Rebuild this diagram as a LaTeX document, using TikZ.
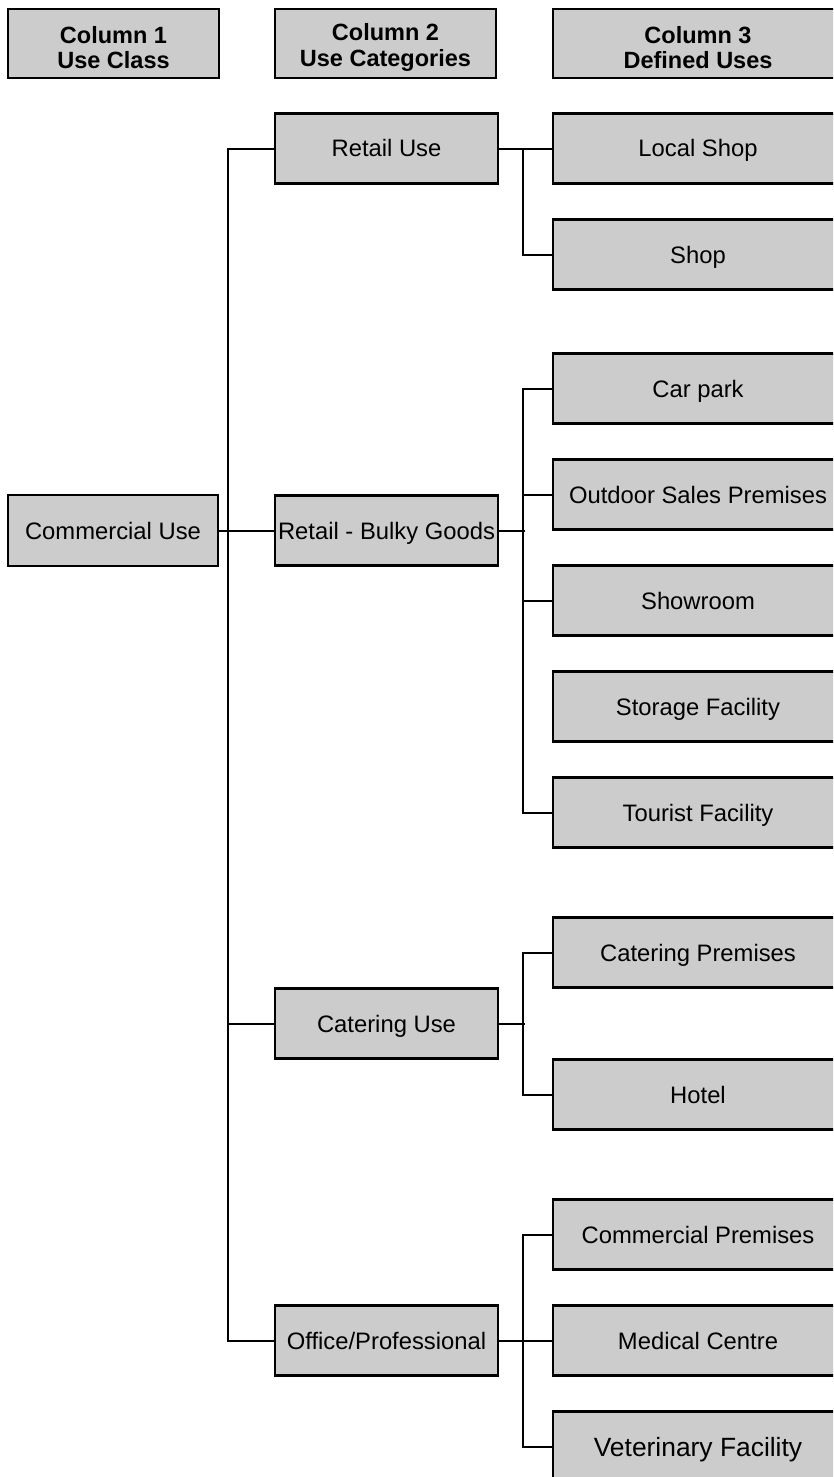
\documentclass[tikz,border=0pt]{standalone}
\usepackage{fontspec}
\setmainfont{Liberation Sans}
\definecolor{boxgray}{HTML}{CCCCCC}
\tikzset{
  box/.style={draw=black, line width=2.3pt, fill=boxgray, inner sep=0pt, anchor=center,
    text height=17pt, text depth=0pt, font=\fontsize{23.8}{27}\selectfont},
  hdr/.style={box, minimum height=69pt},
  hdrtext/.style={align=center, inner sep=0pt, font=\fontsize{23.5}{25.5}\selectfont\bfseries, yshift=-4pt},
  cA/.style={minimum width=210pt, minimum height=71pt},
  cB/.style={minimum width=223pt, minimum height=70pt},
  cC/.style={minimum width=290pt, minimum height=70pt},
  link/.style={draw=black, line width=2pt}
}
\begin{document}
\begin{tikzpicture}[x=1pt,y=-1pt]
\useasboundingbox (0,0) rectangle (833,1477);
\clip (0,0) rectangle (833,1477);
\fill[white] (0,0) rectangle (833,1477);
% headers
\node[hdr, minimum width=211pt, label={[hdrtext]center:Column 1\\Use Class}] (h1) at (113.5,43.5) {};
\node[hdr, minimum width=221pt, label={[hdrtext]center:Column 2\\Use Categories}] (h2) at (385.5,43.5) {};
\node[hdr, minimum width=290pt, label={[hdrtext]center:Column 3\\Defined Uses}] (h3) at (698,43.5) {};
% column 1
\node[box, cA] (cu) at (113,530.5) {Commercial Use};
% column 2
\node[box, cB] (ru) at (386.5,148.5) {Retail Use};
\node[box, cB] (rb) at (386.5,530.5) {Retail - Bulky Goods};
\node[box, cB] (cat) at (386.5,1023.5) {Catering Use};
\node[box, cB] (op) at (386.5,1340.5) {Office/Professional};
% column 3
\node[box, cC] (ls) at (698,148.5) {Local Shop};
\node[box, cC] (sh) at (698,254.5) {Shop};
\node[box, cC] (cp) at (698,388.5) {Car park};
\node[box, cC] (os) at (698,494.5) {Outdoor Sales Premises};
\node[box, cC] (srm) at (698,600.5) {Showroom};
\node[box, cC] (sf) at (698,706.5) {Storage Facility};
\node[box, cC] (tf) at (698,812.5) {Tourist Facility};
\node[box, cC] (cpr) at (698,952.5) {Catering Premises};
\node[box, cC] (ho) at (698,1094.5) {Hotel};
\node[box, cC] (cpm) at (698,1234.5) {Commercial Premises};
\node[box, cC] (mc) at (698,1340.5) {Medical Centre};
\node[box, cC, text height=19pt, font=\fontsize{26.4}{29}\selectfont] (vf) at (698,1446.5) {Veterinary Facility};
% trunk
\draw[link] (ru.west) -- ++(-46,0) |- (op.west);
\draw[link] (cat.west) -- ++(-46,0);
\draw[link] (cu.east) -- (rb.west);
% retail use
\draw[link] (ru.east) -- (ls.west);
\draw[link] (ls.west) -- ++(-29,0) |- (sh.west);
% bulky goods
\draw[link] (cp.west) -- ++(-29,0) |- (tf.west);
\draw[link] (os.west) -- ++(-29,0);
\draw[link] (srm.west) -- ++(-29,0);
\draw[link] (rb.east) -- ++(26,0);
% catering
\draw[link] (cpr.west) -- ++(-29,0) |- (ho.west);
\draw[link] (cat.east) -- ++(26,0);
% office
\draw[link] (cpm.west) -- ++(-29,0) |- (vf.west);
\draw[link] (op.east) -- (mc.west);
\end{tikzpicture}
\end{document}
